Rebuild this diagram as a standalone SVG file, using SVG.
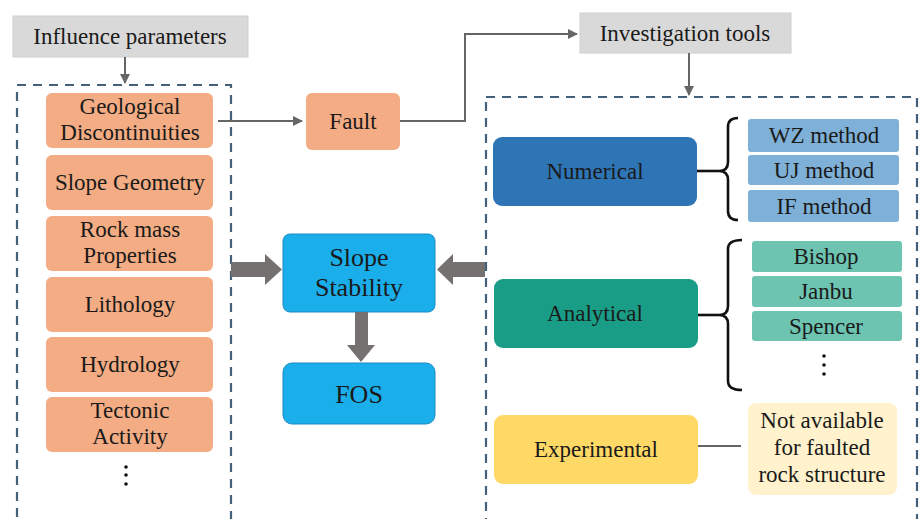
<svg xmlns="http://www.w3.org/2000/svg" width="921" height="519" viewBox="0 0 921 519">
<defs>
<style>
text{font-family:'Liberation Serif','DejaVu Serif',serif;font-size:23px;fill:#1a1a1a;text-anchor:middle}
.big{font-size:26px}
.gray{fill:#d9d9d9;stroke:#cfcfcf;stroke-width:1}
.org{fill:#f3ac83}
.dash{fill:none;stroke:#44617b;stroke-width:2.2;stroke-dasharray:9 7}
.thin{fill:none;stroke:#666;stroke-width:2}
.brace{fill:none;stroke:#111;stroke-width:2.6}
.blue{fill:#1aaeea;stroke:#1a8cc4;stroke-width:1}
.sub1{fill:#7fb1d8}
.sub2{fill:#6cc4b1}
.fat{fill:#757171}
</style>
<marker id="ah" viewBox="0 0 10 10" refX="9" refY="5" markerWidth="5" markerHeight="5" orient="auto"><path d="M0,0 L10,5 L0,10 Z" fill="#666"/></marker>
</defs>
<rect width="921" height="519" fill="#fff"/>

<g id="frames">
<rect class="dash" x="17" y="85" width="214" height="450"/>
<rect class="dash" x="486" y="97" width="431" height="440"/>
</g>

<g id="influence"><rect class="gray" x="13" y="16" width="235" height="41"/><text x="130" y="44" font-family="Liberation Serif, serif">Influence parameters</text></g>
<g id="investigation"><rect class="gray" x="580" y="13" width="211" height="40"/><text x="685" y="41">Investigation tools</text></g>

<g id="geological"><rect class="org" x="46" y="93" width="167" height="55" rx="6"/><text x="130" y="114">Geological</text><text x="130" y="140">Discontinuities</text></g>
<g id="slopegeom"><rect class="org" x="46" y="155" width="167" height="55" rx="6"/><text x="130" y="190">Slope Geometry</text></g>
<g id="rockmass"><rect class="org" x="46" y="216" width="167" height="55" rx="6"/><text x="130" y="237">Rock mass</text><text x="130" y="263">Properties</text></g>
<g id="lithology"><rect class="org" x="46" y="277" width="167" height="55" rx="6"/><text x="130" y="312">Lithology</text></g>
<g id="hydrology"><rect class="org" x="46" y="337" width="167" height="55" rx="6"/><text x="130" y="372">Hydrology</text></g>
<g id="tectonic"><rect class="org" x="46" y="397" width="167" height="55" rx="6"/><text x="130" y="418">Tectonic</text><text x="130" y="444">Activity</text></g>
<g id="leftdots"><circle cx="126" cy="467" r="1.8" fill="#111"/><circle cx="126" cy="475" r="1.8" fill="#111"/><circle cx="126" cy="484" r="1.8" fill="#111"/></g>

<g id="fault"><rect class="org" x="306" y="93" width="94" height="57" rx="6"/><text x="353" y="129">Fault</text></g>

<g id="slopestability"><rect class="blue" x="283" y="234" width="152" height="78" rx="7"/><text class="big" x="359" y="266">Slope</text><text class="big" x="359" y="296">Stability</text></g>
<g id="fos"><rect class="blue" x="283" y="363" width="152" height="61" rx="9"/><text class="big" x="359" y="403">FOS</text></g>

<g id="numerical"><rect x="493" y="137" width="204" height="69" rx="9" fill="#2e75b6"/><text x="595" y="179">Numerical</text></g>
<g id="wz"><rect class="sub1" x="748" y="119" width="151" height="33" rx="3"/><text x="824" y="143">WZ method</text></g>
<g id="uj"><rect class="sub1" x="748" y="155" width="151" height="30" rx="3"/><text x="824" y="178">UJ method</text></g>
<g id="if"><rect class="sub1" x="748" y="190" width="151" height="32" rx="3"/><text x="824" y="214">IF method</text></g>

<g id="analytical"><rect x="494" y="279" width="204" height="69" rx="9" fill="#1a9d86"/><text x="595" y="321">Analytical</text></g>
<g id="bishop"><rect class="sub2" x="752" y="241" width="150" height="31" rx="3"/><text x="826" y="264">Bishop</text></g>
<g id="janbu"><rect class="sub2" x="752" y="276" width="150" height="31" rx="3"/><text x="826" y="299">Janbu</text></g>
<g id="spencer"><rect class="sub2" x="752" y="311" width="150" height="30" rx="3"/><text x="826" y="334">Spencer</text></g>
<g id="rightdots"><circle cx="824" cy="356" r="1.8" fill="#111"/><circle cx="824" cy="365" r="1.8" fill="#111"/><circle cx="824" cy="374" r="1.8" fill="#111"/></g>

<g id="experimental"><rect x="494" y="415" width="204" height="69" rx="9" fill="#ffd966"/><text x="596" y="457">Experimental</text></g>
<g id="notavailable"><rect x="748" y="403" width="149" height="92" rx="8" fill="#fff2cc"/><text x="822" y="428">Not available</text><text x="822" y="455">for faulted</text><text x="822" y="482">rock structure</text></g>

<g id="connectors">
<path class="thin" d="M125,57 V83" marker-end="url(#ah)"/>
<path class="thin" d="M689,53 V95" marker-end="url(#ah)"/>
<path class="thin" d="M218,121 H302" marker-end="url(#ah)"/>
<path class="thin" d="M400,121 H465 V34 H577" marker-end="url(#ah)"/>
<path class="thin" d="M698,446 H741"/>
<path class="brace" d="M697,171 H719"/>
<path class="brace" d="M738,118 Q728,118 728,127 V162 Q728,171 719,171 Q728,171 728,180 V211 Q728,220 738,220"/>
<path class="brace" d="M698,315 H719"/>
<path class="brace" d="M742,240 Q728,240 728,249 V306 Q728,315 719,315 Q728,315 728,324 V381 Q728,390 742,390"/>
<path class="fat" d="M231,262 H265 V254 L282,269.5 L265,285 V277 H231 Z"/>
<path class="fat" d="M485,262 H453 V254 L437,269.5 L453,285 V277 H485 Z"/>
<path class="fat" d="M355,312 V345 H347 L361,362 L375,345 H368 V312 Z"/>
</g>
</svg>
